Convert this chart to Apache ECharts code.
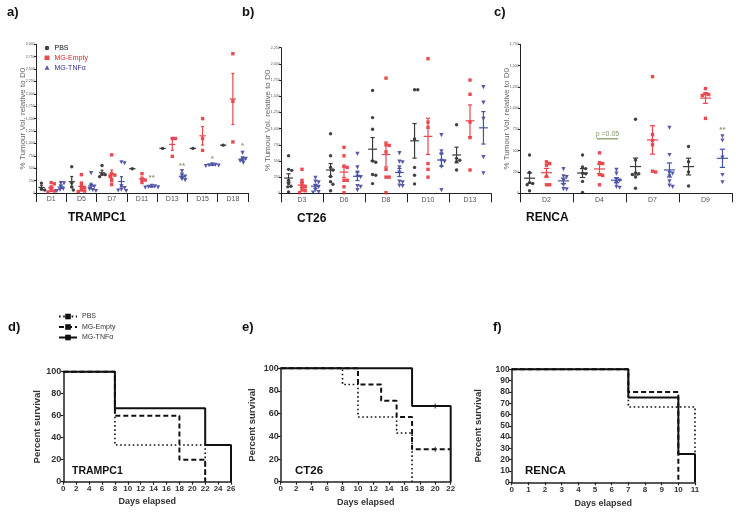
<!DOCTYPE html>
<html><head><meta charset="utf-8">
<script src="https://cdn.jsdelivr.net/npm/echarts@6/dist/echarts.min.js"></script>
<style>html,body{margin:0;padding:0;background:#fff}#c{width:740px;height:515px}</style>
</head><body><div id="c"></div>
<script>
// ================= DATA =================
const groups = ['PBS', 'MG-Empty', 'MG-TNFα'];

// a) TRAMPC1 – % tumour volume relative to D0 (individual animals)
const trampDays = ['D1', 'D5', 'D7', 'D11', 'D13', 'D15', 'D18'];
const trampPBS = [[60, 75, 200], [530, 200, 120, 60], [555, 380, 370, 330], [490], [900], [900], [965]];
const trampEmpty = [[210, 185, 120, 55, 40, 20], [370, 200, 130, 110, 60, 40, 30], [770, 390, 360, 330, 250, 170], [390, 280, 260, 210], [1100, 1100, 740], [1500, 1100, 860], [2810, 1850, 1030]];
const trampTNF = [[200, 195, 135, 85, 65, 40], [400, 140, 130, 80, 60, 40], [620, 600, 140, 100, 70, 50, 40], [145, 135, 125, 115, 110], [440, 370, 330, 280, 260], [580, 570, 560, 555, 545], [810, 700, 690, 650, 640, 610]];
const trampYMax = 3000;
const trampStars = [[3, 2, 300, '**'], [4, 2, 545, '**'], [5, 2, 700, '*'], [6, 2, 945, '*']];

// b) CT26
const ctDays = ['D3', 'D6', 'D8', 'D10', 'D13'];
const ctPBS = [[580, 370, 355, 200, 150, 110, 100, 20], [920, 580, 400, 360, 260, 180, 140, 40], [1590, 1170, 990, 500, 480, 290, 280, 150], [1600, 1600, 840, 400, 280, 145], [1060, 540, 510, 490, 360]];
const ctEmpty = [[370, 200, 150, 100, 100, 50, 40, 10], [710, 580, 420, 400, 200, 200, 100, 10], [1780, 750, 740, 640, 370, 250, 250, 10], [2080, 1100, 1020, 460, 370, 250], [1750, 1530, 1100, 860, 360]];
const ctTNF = [[240, 180, 170, 110, 100, 50, 20, 10], [610, 400, 320, 260, 250, 110, 100, 50], [620, 490, 480, 400, 320, 180, 170, 120, 110], [900, 650, 600, 500, 490, 410, 50], [1640, 1400, 1150, 560, 310]];
const ctYMax = 2250;
const ctStars = [];

// c) RENCA
const rnDays = ['D2', 'D4', 'D7', 'D9'];
const rnPBS = [[450, 245, 125, 115, 100, 30], [450, 310, 290, 235, 230, 140, 10], [870, 390, 240, 230, 220, 190, 60], [550, 370, 250, 85]];
const rnEmpty = [[370, 350, 330, 200, 100, 100], [475, 360, 350, 220, 210, 100], [1370, 690, 620, 570, 260, 250], [1230, 1170, 1160, 1150, 880]];
const rnTNF = [[285, 200, 190, 150, 100, 50, 45], [275, 230, 160, 150, 120, 75, 65], [770, 450, 240, 230, 200, 140, 90, 75], [670, 620, 420, 215, 130]];
const rnYMax = 1750;
const rnStars = [[3, 2, 750, '**']];
const rnPText = 'p =0.05';
const rnPCat = 1, rnPValue = 640;

const yTickStep = 250;

// d) TRAMPC1 survival (days, percent surviving)
const dPBSDays = [0, 8, 22], dPBSSurv = [100, 33.3, 0];
const dEmptyDays = [0, 8, 18, 22], dEmptySurv = [100, 60, 20, 0];
const dTNFDays = [0, 8, 22, 26], dTNFSurv = [100, 66.7, 33.3, 0];
// e) CT26 survival
const ePBSDays = [0, 8, 10, 15, 17], ePBSSurv = [100, 85.7, 57.1, 42.9, 0];
const eEmptyDays = [0, 10, 13, 15, 17, 22], eEmptySurv = [100, 85.7, 71.4, 57.1, 28.6, 28.6];
const eTNFDays = [0, 17, 22], eTNFSurv = [100, 66.7, 0];
const eCensorDays = [20, 20], eCensorSurv = [66.7, 28.6];
// f) RENCA survival
const fPBSDays = [0, 7, 11], fPBSSurv = [100, 66.7, 0];
const fEmptyDays = [0, 7, 10], fEmptySurv = [100, 80, 0];
const fTNFDays = [0, 7, 10, 11], fTNFSurv = [100, 75, 25, 0];

// ================= STYLE / LAYOUT =================
const FONT = '"Liberation Sans", Arial, Helvetica, sans-serif';
const dotColors = ['#111111', '#e31e24', '#2e3192'];
const barColors = ['#3a3a3a', '#e8464d', '#4652a8'];
const symbols = ['circle', 'rect', 'triangle'];
const symSizes = [3.4, 3.4, 4.2];
const symRot = [0, 0, 180];
const groupOffset = [-0.32, 0, 0.32];
const starColor = '#8d9b70';

const topPanels = [
  { days: trampDays, data: [trampPBS, trampEmpty, trampTNF], ymax: trampYMax, stars: trampStars,
    grid: { left: 36, top: 44.3, width: 212, height: 148.7 }, nameGap: 9 },
  { days: ctDays, data: [ctPBS, ctEmpty, ctTNF], ymax: ctYMax, stars: ctStars,
    grid: { left: 281, top: 47.7, width: 210, height: 145.6 }, nameGap: 9.5 },
  { days: rnDays, data: [rnPBS, rnEmpty, rnTNF], ymax: rnYMax, stars: rnStars,
    grid: { left: 520, top: 44.3, width: 212, height: 149 }, nameGap: 9.5 }
];
const survPanels = [
  { series: [[dPBSDays, dPBSSurv], [dEmptyDays, dEmptySurv], [dTNFDays, dTNFSurv]], xmax: 26, xint: 2, yint: 20,
    grid: { left: 63.3, top: 371.7, width: 167.7, height: 110 }, yGap: 20.5, xGap: 15.5, yFont: 9 },
  { series: [[ePBSDays, ePBSSurv], [eEmptyDays, eEmptySurv], [eTNFDays, eTNFSurv]], xmax: 22, xint: 2, yint: 20,
    grid: { left: 280.7, top: 368.3, width: 170, height: 113.4 }, yGap: 23, xGap: 16.5, yFont: 9,
    censor: [eCensorDays, eCensorSurv] },
  { series: [[fPBSDays, fPBSSurv], [fEmptyDays, fEmptySurv], [fTNFDays, fTNFSurv]], xmax: 11, xint: 1, yint: 10,
    grid: { left: 511.7, top: 369.3, width: 183.3, height: 113 }, yGap: 28, xGap: 17, yFont: 8.5 }
];
const survLine = [
  { type: [1.6, 2.6], width: 1.6 },
  { type: [5, 3], width: 2 },
  { type: 'solid', width: 2 }
];

// ================= HELPERS =================
function meanSem(v) {
  const n = v.length;
  const m = v.reduce((a, b) => a + b, 0) / n;
  if (n < 2) return [m, 0];
  const sd = Math.sqrt(v.reduce((a, b) => a + (b - m) * (b - m), 0) / (n - 1));
  return [m, sd / Math.sqrt(n)];
}
// compact beeswarm: each point stays at its value, shifted sideways only as far as needed to avoid overlap
function swarm(vals, center, yPx, xPx, d) {
  const sorted = vals.slice().sort((a, b) => b - a);
  const placed = [], out = [];
  sorted.forEach(v => {
    const y = v * yPx;
    let dx = 0;
    for (let k = 0; k < 60; k++) {
      const cand = k === 0 ? 0 : (k % 2 ? 1 : -1) * Math.ceil(k / 2) * 0.8;
      if (placed.every(p => Math.hypot(p[0] - cand, p[1] - y) >= d)) { dx = cand; break; }
    }
    placed.push([dx, y]);
    out.push([center + dx / xPx, v]);
  });
  return out;
}

// ================= BUILD OPTION =================
const grids = [], xAxes = [], yAxes = [], series = [];

topPanels.forEach((p, i) => {
  const nC = p.days.length;
  grids.push(Object.assign({ containLabel: false }, p.grid));
  xAxes.push({
    type: 'category', gridIndex: i, data: p.days, boundaryGap: true,
    axisLine: { lineStyle: { color: '#222', width: 1 } },
    axisTick: { show: true, interval: 0, length: 9, lineStyle: { color: '#222', width: 1 } },
    axisLabel: { interval: 0, fontSize: 7, color: '#555', margin: 3, fontFamily: FONT },
    splitLine: { show: false }
  });
  xAxes.push({ type: 'value', gridIndex: i, min: 0, max: nC, show: false });
  yAxes.push({
    type: 'value', gridIndex: i, min: 0, max: p.ymax, interval: yTickStep,
    axisLine: { show: true, lineStyle: { color: '#222', width: 1 } },
    axisTick: { show: true, length: 2, lineStyle: { color: '#222' } },
    axisLabel: { fontSize: 3.6, color: '#555', margin: 1.2, fontFamily: FONT },
    splitLine: { show: false },
    name: '% Tumour Vol. relative to D0', nameLocation: 'middle', nameGap: p.nameGap, nameMoveOverlap: false,
    nameTextStyle: { fontSize: 8, color: '#666', fontFamily: FONT }
  });
  const yPx = p.grid.height / p.ymax, xPx = p.grid.width / nC;
  p.data.forEach((grp, g) => {
    const pts = [], stats = [];
    grp.forEach((vals, c) => {
      const cx = c + 0.5 + groupOffset[g];
      swarm(vals, cx, yPx, xPx, 3.2).forEach(q => pts.push(q));
      const ms = meanSem(vals);
      stats.push([cx, ms[0], ms[1]]);
    });
    series.push({
      type: 'scatter', name: groups[g], xAxisIndex: 2 * i + 1, yAxisIndex: i,
      data: pts, symbol: symbols[g], symbolSize: symSizes[g], symbolRotate: symRot[g],
      itemStyle: { color: dotColors[g] }, silent: true, z: 3
    });
    series.push({
      type: 'custom', name: groups[g] + ' mean', xAxisIndex: 2 * i + 1, yAxisIndex: i,
      data: stats, silent: true, z: 4, clip: false,
      renderItem: (params, api) => {
        const x = api.value(0), m = api.value(1), s = api.value(2);
        const unit = api.size([1, 0])[0];
        const c = api.coord([x, m]);
        const hw = unit * 0.105, cw = unit * 0.05;
        const st = { stroke: barColors[g], lineWidth: 1.2 };
        const ch = [{ type: 'line', shape: { x1: c[0] - hw, y1: c[1], x2: c[0] + hw, y2: c[1] }, style: st }];
        if (s > 0) {
          const t = api.coord([x, m + s]), b = api.coord([x, m - s]);
          ch.push({ type: 'line', shape: { x1: c[0], y1: t[1], x2: c[0], y2: b[1] }, style: st });
          ch.push({ type: 'line', shape: { x1: c[0] - cw, y1: t[1], x2: c[0] + cw, y2: t[1] }, style: st });
          ch.push({ type: 'line', shape: { x1: c[0] - cw, y1: b[1], x2: c[0] + cw, y2: b[1] }, style: st });
        }
        return { type: 'group', children: ch };
      }
    });
  });
  if (p.stars.length) {
    series.push({
      type: 'custom', name: 'stars' + i, xAxisIndex: 2 * i + 1, yAxisIndex: i, silent: true, clip: false,
      data: p.stars.map(s => [s[0] + 0.5 + groupOffset[s[1]], s[2]]),
      renderItem: (params, api) => {
        const c = api.coord([api.value(0), api.value(1)]);
        return { type: 'text', x: c[0], y: c[1], style: { text: p.stars[params.dataIndex][3], fill: starColor, font: 'bold 8px ' + FONT, align: 'center', verticalAlign: 'middle' } };
      }
    });
  }
});

// p = 0.05 annotation in panel c
series.push({
  type: 'custom', name: 'pval', xAxisIndex: 5, yAxisIndex: 2, silent: true, clip: false,
  data: [[rnPCat + 0.5 - 0.05, rnPValue, rnPCat + 0.5 + 0.35]],
  renderItem: (params, api) => {
    const a = api.coord([api.value(0), api.value(1)]);
    const b = api.coord([api.value(2), api.value(1)]);
    return { type: 'group', children: [
      { type: 'line', shape: { x1: a[0], y1: a[1], x2: b[0], y2: b[1] }, style: { stroke: '#7f9a6c', lineWidth: 1.3 } },
      { type: 'text', x: (a[0] + b[0]) / 2, y: a[1] - 5, style: { text: rnPText, fill: '#7f9a6c', font: '7px ' + FONT, align: 'center', verticalAlign: 'middle' } }
    ] };
  }
});

const survNames = groups.map(g => g + ' survival');
survPanels.forEach((p, k) => {
  const gi = 3 + k;
  grids.push(Object.assign({ containLabel: false }, p.grid));
  xAxes.push({
    type: 'value', gridIndex: gi, min: 0, max: p.xmax, interval: p.xint,
    axisLine: { show: true, onZero: false, lineStyle: { color: '#222', width: 1.5 } },
    axisTick: { show: true, length: 3, lineStyle: { color: '#222', width: 1.2 } },
    axisLabel: { fontSize: 8, fontWeight: 'bold', color: '#333', margin: 3, fontFamily: FONT },
    splitLine: { show: false },
    name: 'Days elapsed', nameLocation: 'middle', nameGap: p.xGap,
    nameTextStyle: { fontSize: 9, fontWeight: 'bold', color: '#333', fontFamily: FONT }
  });
  yAxes.push({
    type: 'value', gridIndex: gi, min: 0, max: 100, interval: p.yint,
    axisLine: { show: true, onZero: false, lineStyle: { color: '#222', width: 1.5 } },
    axisTick: { show: true, length: 3, lineStyle: { color: '#222', width: 1.2 } },
    axisLabel: { fontSize: p.yFont, fontWeight: 'bold', color: '#333', margin: 2, fontFamily: FONT },
    splitLine: { show: false },
    name: 'Percent survival', nameLocation: 'middle', nameGap: p.yGap,
    nameTextStyle: { fontSize: 9.5, fontWeight: 'bold', color: '#333', fontFamily: FONT }
  });
  p.series.forEach((s, g) => {
    series.push({
      type: 'line', name: survNames[g], xAxisIndex: 6 + k, yAxisIndex: gi, step: 'end',
      data: s[0].map((d, j) => [d, s[1][j]]), showSymbol: false, symbol: 'rect', symbolSize: 2.5,
      clip: false, silent: true, z: g === 2 ? 5 : 4,
      lineStyle: { color: '#111', width: survLine[g].width, type: survLine[g].type },
      itemStyle: { color: '#111' }
    });
  });
  if (p.censor) {
    series.push({
      type: 'scatter', name: 'censor' + k, xAxisIndex: 6 + k, yAxisIndex: gi, silent: true,
      data: p.censor[0].map((d, j) => [d, p.censor[1][j]]), symbol: 'rect', symbolSize: [1.3, 5],
      itemStyle: { color: '#333' }
    });
  }
});

function txt(t, x, y, font, fill) {
  return { type: 'text', x: x, y: y, silent: true,
    style: { text: t, font: font, fill: fill || '#111', verticalAlign: 'middle', align: 'left' } };
}
const graphics = [
  txt('a)', 7, 12, 'bold 13px ' + FONT), txt('b)', 242, 12, 'bold 13px ' + FONT), txt('c)', 494, 12, 'bold 13px ' + FONT),
  txt('d)', 8, 327, 'bold 13px ' + FONT), txt('e)', 242, 327, 'bold 13px ' + FONT), txt('f)', 493, 327, 'bold 13px ' + FONT),
  txt('TRAMPC1', 68, 218, 'bold 12px ' + FONT), txt('CT26', 297, 219, 'bold 12px ' + FONT), txt('RENCA', 526, 218, 'bold 12px ' + FONT),
  txt('TRAMPC1', 72, 471, 'bold 10.5px ' + FONT), txt('CT26', 295, 471, 'bold 11.5px ' + FONT), txt('RENCA', 525, 471, 'bold 11.5px ' + FONT)
];

const option = {
  animation: false,
  backgroundColor: '#fff',
  textStyle: { fontFamily: FONT },
  grid: grids, xAxis: xAxes, yAxis: yAxes, series: series, graphic: graphics,
  legend: [
    { orient: 'vertical', left: 44.5, top: 44, padding: 0, itemWidth: 5, itemHeight: 4.5, itemGap: 1.8,
      selectedMode: false,
      textStyle: { fontSize: 7, lineHeight: 8, fontFamily: FONT },
      data: groups.map((g, i) => ({ name: g, textStyle: { color: dotColors[i] } })) },
    { orient: 'vertical', left: 58, top: 312.5, padding: 0, itemWidth: 18, itemHeight: 7, itemGap: 2.5,
      selectedMode: false,
      textStyle: { fontSize: 7, lineHeight: 8, color: '#333', fontFamily: FONT },
      formatter: n => n.replace(' survival', ''),
      data: survNames }
  ]
};
echarts.init(document.getElementById('c'), null, { renderer: 'canvas' }).setOption(option);
</script>
</body></html>
